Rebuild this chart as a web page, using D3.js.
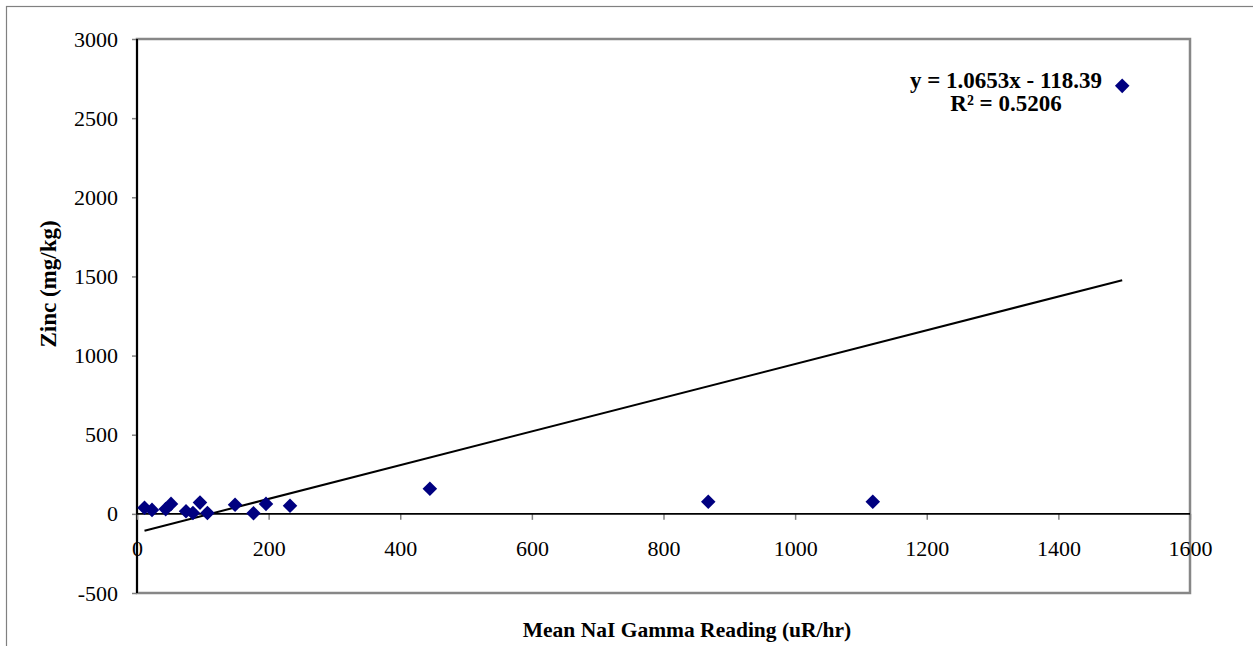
<!DOCTYPE html>
<html>
<head>
<meta charset="utf-8">
<script src="https://cdn.jsdelivr.net/npm/d3@7"></script>
<style>
  body { margin: 0; background: #fff; }
  svg { display: block; font-family: "Liberation Serif", "Times New Roman", serif; }
</style>
</head>
<body>
<svg id="chart" width="1253" height="646"></svg>
<script>
// gamma reading vs zinc
var gammaX = [11.4, 22.8, 43.6, 51.7, 74.5, 85, 95.7, 107, 149, 177, 196, 232.5, 445, 868, 1118, 1497];
var zincY  = [38, 25, 30, 63, 16, 6, 71, 6, 57, 4, 63, 51, 158, 76, 76, 2704];
var xTicks = [0, 200, 400, 600, 800, 1000, 1200, 1400, 1600];
var yTicks = [-500, 0, 500, 1000, 1500, 2000, 2500, 3000];
var trend = [1.0653, -118.39]; // slope, intercept
var trendLabel = ["y = 1.0653x - 118.39", "R\u00b2 = 0.5206"];

var margin = {top: 39, right: 63, bottom: 53, left: 137},
    width = 1253 - margin.left - margin.right,
    height = 646 - margin.top - margin.bottom;

var svg = d3.select("#chart");
var fmt = function(d) { return String(d); }; // plain hyphen for negatives

// outer chart frame (clipped by the window on the right and bottom)
svg.append("rect")
    .attr("x", 6.5).attr("y", 6.5)
    .attr("width", 1300).attr("height", 700)
    .attr("fill", "none")
    .attr("stroke", "#808080")
    .attr("stroke-width", 1.2);

var g = svg.append("g")
    .attr("transform", "translate(" + margin.left + "," + margin.top + ")");

var x = d3.scaleLinear().domain([0, 1600]).range([0, width]);
var y = d3.scaleLinear().domain([-500, 3000]).range([height, 0]);

// plot area border
g.append("rect")
    .attr("width", width).attr("height", height)
    .attr("fill", "none")
    .attr("stroke", "#878787")
    .attr("stroke-width", 2.5);

// y axis
var yAxis = g.append("g")
    .call(d3.axisLeft(y).tickValues(yTicks).tickSize(5).tickPadding(14).tickFormat(fmt));
yAxis.select(".domain").remove();
yAxis.selectAll("line").attr("stroke", "#808080").attr("stroke-width", 1.5);
yAxis.selectAll("text").attr("font-size", 22).attr("fill", "#000")
    .attr("font-family", "Liberation Serif");
g.append("line")
    .attr("x1", 0).attr("x2", 0).attr("y1", 0).attr("y2", height)
    .attr("stroke", "#000").attr("stroke-width", 2);

// x axis along y = 0, labels sit lower
var xAxis = g.append("g")
    .attr("transform", "translate(0," + y(0) + ")")
    .call(d3.axisBottom(x).tickValues(xTicks).tickSize(6).tickPadding(21).tickFormat(fmt));
xAxis.select(".domain").remove();
xAxis.selectAll("line").attr("stroke", "#808080").attr("stroke-width", 1.5);
xAxis.selectAll("text").attr("font-size", 22).attr("fill", "#000")
    .attr("font-family", "Liberation Serif");
g.append("line")
    .attr("x1", 0).attr("x2", width).attr("y1", y(0)).attr("y2", y(0))
    .attr("stroke", "#000").attr("stroke-width", 1.6);

// linear trendline over the data range
var xr = d3.extent(gammaX);
g.append("line")
    .attr("x1", x(xr[0])).attr("y1", y(trend[0] * xr[0] + trend[1]))
    .attr("x2", x(xr[1])).attr("y2", y(trend[0] * xr[1] + trend[1]))
    .attr("stroke", "#000").attr("stroke-width", 2);

// diamond markers
var pts = gammaX.map(function(d, i) { return [d, zincY[i]]; });
g.selectAll("path.pt")
    .data(pts)
    .enter()
    .append("path")
    .attr("class", "pt")
    .attr("d", d3.symbol().type(d3.symbolDiamond2).size(135))
    .attr("transform", function(d) { return "translate(" + x(d[0]) + "," + y(d[1]) + ")"; })
    .attr("fill", "#000080");

// equation label
var lab = svg.append("text")
    .attr("text-anchor", "middle")
    .attr("font-weight", "bold")
    .attr("font-size", 23)
    .attr("font-family", "Liberation Serif");
lab.selectAll("tspan")
    .data(trendLabel)
    .enter()
    .append("tspan")
    .attr("x", 1006)
    .attr("y", function(d, i) { return 88 + i * 23; })
    .text(function(d) { return d; });

// axis titles
svg.append("text")
    .attr("x", 687)
    .attr("y", 637)
    .attr("text-anchor", "middle")
    .attr("font-weight", "bold")
    .attr("font-size", 21.5)
    .attr("font-family", "Liberation Serif")
    .text("Mean NaI Gamma Reading (uR/hr)");

svg.append("text")
    .attr("transform", "translate(56,284) rotate(-90)")
    .attr("text-anchor", "middle")
    .attr("font-weight", "bold")
    .attr("font-size", 23)
    .attr("font-family", "Liberation Serif")
    .text("Zinc (mg/kg)");
</script>
</body>
</html>
